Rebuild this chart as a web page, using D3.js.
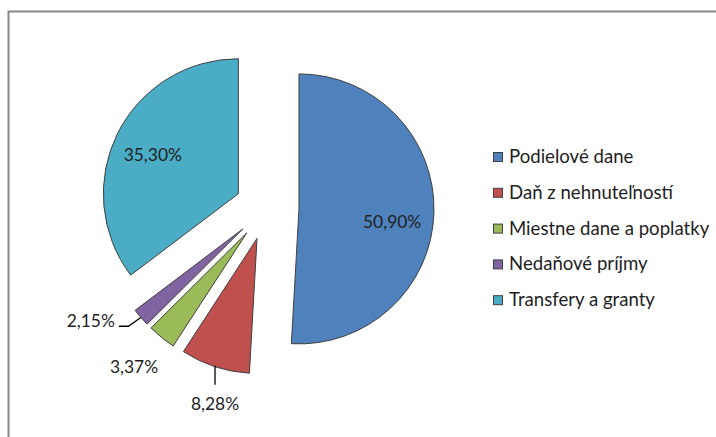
<!DOCTYPE html>
<html>
<head>
<meta charset="utf-8">
<script src="https://cdn.jsdelivr.net/npm/d3@7"></script>
<style>
  html, body { margin: 0; padding: 0; background: #fff; }
  svg { display: block; }
  text { font-family: Lato, "Open Sans", sans-serif; }
</style>
</head>
<body>
<svg id="chart" width="716" height="437"></svg>
<script>
// ---- data ----
const categories = ["Podielové dane", "Daň z nehnuteľností", "Miestne dane a poplatky", "Nedaňové príjmy", "Transfery a granty"];
const values = [50.90, 8.28, 3.37, 2.15, 35.30];
const valueLabels = ["50,90%", "8,28%", "3,37%", "2,15%", "35,30%"];
const colors = ["#4F81BD", "#C0504D", "#9BBB59", "#8064A2", "#4BACC6"];

// ---- layout ----
const W = 716, H = 437;
const cx = 267, cy = 208, R = 135, explode = 32;
const svg = d3.select("#chart");

// frame
svg.append("rect")
  .attr("x", 8.5).attr("y", 11.5)
  .attr("width", W + 20).attr("height", H + 20)
  .attr("fill", "#fff").attr("stroke", "#878787").attr("stroke-width", 2);

const pie = d3.pie().sort(null).value(d => d);
const arcs = pie(values);
const arc = d3.arc().innerRadius(0).outerRadius(R);
const polar = (a, r) => [Math.sin(a) * r, -Math.cos(a) * r];
const deg = Math.PI / 180;

const g = svg.append("g").attr("transform", `translate(${cx},${cy})`);

arcs.forEach((a, i) => {
  const mid = (a.startAngle + a.endAngle) / 2;
  const [ox, oy] = polar(mid, explode);
  a.ox = ox; a.oy = oy; a.mid = mid;
  g.append("path")
    .attr("d", arc(a))
    .attr("transform", `translate(${ox},${oy})`)
    .attr("fill", colors[i])
    .attr("stroke", "#3f3f3f")
    .attr("stroke-width", 1)
    .attr("stroke-linejoin", "miter");
});

const labelSize = 17.4;
const legendSize = 18.6;
const labelColor = "#1e1e1e";

// label placement per slice
const labelCfg = [
  { type: "inside", dAngle: 6, r: 94 },
  { type: "below" },
  { type: "outside", dAngle: 1, r: 175 },
  { type: "leftLeader" },
  { type: "inside", dAngle: -2, r: 94 }
];

arcs.forEach((a, i) => {
  const cfg = labelCfg[i];
  if (cfg.type === "inside" || cfg.type === "outside") {
    const [lx, ly] = polar(a.mid + cfg.dAngle * deg, cfg.r);
    g.append("text")
      .attr("x", a.ox + lx).attr("y", a.oy + ly)
      .attr("text-anchor", "middle").attr("dominant-baseline", "central")
      .attr("font-size", labelSize).attr("fill", labelColor)
      .text(valueLabels[i]);
  } else if (cfg.type === "below") {
    const [px, py] = polar(a.mid, R);
    const x0 = a.ox + px, y0 = a.oy + py;
    g.append("path")
      .attr("d", `M${x0},${y0 - 1}V${y0 + 18}`)
      .attr("stroke", "#000").attr("stroke-width", 1.3).attr("fill", "none");
    g.append("text")
      .attr("x", x0).attr("y", y0 + 43)
      .attr("text-anchor", "middle")
      .attr("font-size", labelSize).attr("fill", labelColor)
      .text(valueLabels[i]);
  } else if (cfg.type === "leftLeader") {
    const [px, py] = polar(a.mid, R);
    const x0 = a.ox + px, y0 = a.oy + py;
    const x1 = x0 - 12.5, y1 = y0 + 8.8, x2 = x1 - 9.5;
    g.append("path")
      .attr("d", `M${x0},${y0}L${x1},${y1}H${x2}`)
      .attr("stroke", "#000").attr("stroke-width", 1.3).attr("fill", "none");
    g.append("text")
      .attr("x", x2 - 4).attr("y", y1 + 1)
      .attr("text-anchor", "end")
      .attr("font-size", labelSize).attr("fill", labelColor)
      .text(valueLabels[i]);
  }
});

// legend
const legend = svg.append("g").attr("transform", "translate(493,157)");
const rowGap = 35.8;
categories.forEach((c, i) => {
  const row = legend.append("g").attr("transform", `translate(0,${i * rowGap})`);
  row.append("rect")
    .attr("x", 0.5).attr("y", -4.5).attr("width", 9).attr("height", 9)
    .attr("fill", colors[i]).attr("stroke", "#3f3f3f").attr("stroke-width", 1);
  row.append("text")
    .attr("x", 16).attr("y", 6)
    .attr("font-size", legendSize).attr("fill", labelColor)
    .text(c);
});
</script>
</body>
</html>
